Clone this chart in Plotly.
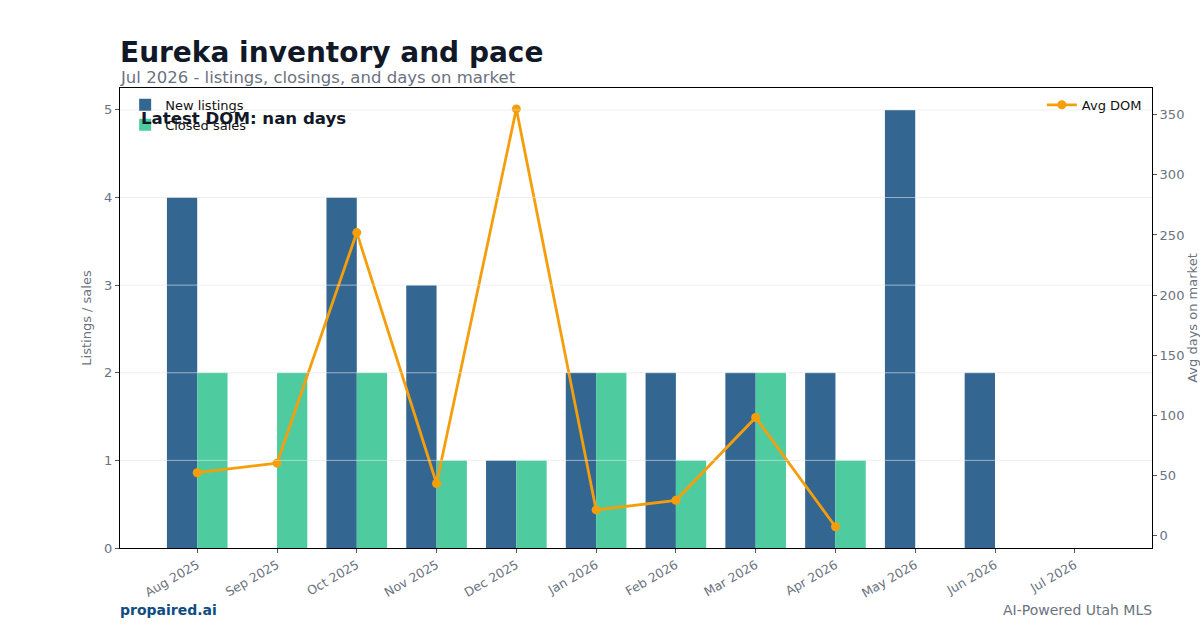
import plotly.graph_objects as go

months = ["Aug 2025", "Sep 2025", "Oct 2025", "Nov 2025", "Dec 2025", "Jan 2026",
          "Feb 2026", "Mar 2026", "Apr 2026", "May 2026", "Jun 2026", "Jul 2026"]
new_listings = [4, 0, 4, 3, 1, 2, 2, 2, 2, 5, 2, 0]
closed_sales = [2, 2, 2, 1, 1, 2, 1, 2, 1, 0, 0, 0]
avg_dom = [52, 60, 252, 43, 355, 21, 29, 98, 7, None, None, None]
left_ticks = [0, 1, 2, 3, 4, 5]
right_ticks = [0, 50, 100, 150, 200, 250, 300, 350]

FONT = "DejaVu Sans"
GRAY = "#6b7280"

fig = go.Figure()
fig.add_trace(go.Bar(x=months, y=new_listings, name="New listings",
                     marker=dict(color="#336791", line=dict(width=0)), legend="legend"))
fig.add_trace(go.Bar(x=months, y=closed_sales, name="Closed sales",
                     marker=dict(color="#4ecca0", line=dict(width=0)), legend="legend"))
fig.add_trace(go.Scatter(x=months, y=avg_dom, name="Avg DOM", yaxis="y2",
                         mode="lines+markers", connectgaps=False,
                         line=dict(color="#f59e0b", width=2.8),
                         marker=dict(color="#f59e0b", size=9), legend="legend2"))

n = len(months)
pad = (n - 1 + 0.76) * 0.05
fig.update_layout(
    width=1200, height=630,
    margin=dict(l=120, r=48, t=88, b=82),
    paper_bgcolor="white", plot_bgcolor="white",
    font=dict(family=FONT, color=GRAY, size=13),
    barmode="group", bargap=0.24, bargroupgap=0,
    showlegend=True,
    xaxis=dict(type="category", range=[-0.38 - pad, n - 1 + 0.38 + pad], automargin=False,
               tickangle=-30, tickfont=dict(size=12.5, color=GRAY),
               showline=True, linecolor="black", linewidth=1, mirror=True,
               ticks="outside", ticklen=4, tickcolor="#555", showgrid=False),
    yaxis=dict(range=[0, 5.25], tickvals=left_ticks, automargin=False,
               title=dict(text="Listings / sales", font=dict(size=13, color=GRAY), standoff=9),
               showline=True, linecolor="black", linewidth=1, mirror=True,
               ticks="outside", ticklen=4, tickcolor="#555",
               showgrid=False, zeroline=False, tickfont=dict(size=13, color=GRAY)),
    yaxis2=dict(overlaying="y", side="right", range=[-10.7, 372.4], tickvals=right_ticks,
                automargin=False,
                title=dict(text="Avg days on market", font=dict(size=13, color=GRAY), standoff=16),
                ticks="outside", ticklen=4, tickcolor="#555",
                showgrid=False, zeroline=False, tickfont=dict(size=13, color=GRAY)),
    legend=dict(x=0.005, y=0.996, xanchor="left", yanchor="top",
                bgcolor="rgba(255,255,255,0)", font=dict(size=13, color="#111"),
                tracegroupgap=2, itemwidth=30),
    legend2=dict(x=0.995, y=0.996, xanchor="right", yanchor="top",
                 bgcolor="rgba(255,255,255,0)", font=dict(size=13, color="#111")),
)

for t in left_ticks[1:]:
    fig.add_shape(type="line", xref="paper", x0=0, x1=1, yref="y", y0=t, y1=t,
                  line=dict(color="rgba(225,228,232,0.6)", width=1), layer="above")

fig.add_annotation(text="<b>Eureka inventory and pace</b>", xref="paper", yref="paper",
                   x=0, y=1.078, xanchor="left", yanchor="middle", showarrow=False, xshift=-2,
                   font=dict(size=28, color="#111827", family=FONT))
fig.add_annotation(text="Jul 2026 - listings, closings, and days on market", xref="paper", yref="paper",
                   x=0, y=1.022, xanchor="left", yanchor="middle", showarrow=False, xshift=-2,
                   font=dict(size=16.5, color=GRAY, family=FONT))
fig.add_annotation(text="<b>Latest DOM: nan days</b>", xref="paper", yref="paper",
                   x=0.02, y=0.933, xanchor="left", yanchor="middle", showarrow=False, xshift=-2,
                   font=dict(size=16.6, color="#111827", family=FONT))
fig.add_annotation(text="<b>propaired.ai</b>", xref="paper", yref="paper",
                   x=0, y=-0.135, xanchor="left", yanchor="middle", showarrow=False, xshift=-2,
                   font=dict(size=14, color="#0f4c81", family=FONT))
fig.add_annotation(text="AI-Powered Utah MLS", xref="paper", yref="paper",
                   x=1, y=-0.135, xanchor="right", yanchor="middle", showarrow=False, xshift=2,
                   font=dict(size=14, color=GRAY, family=FONT))

fig.write_html("out.html")
